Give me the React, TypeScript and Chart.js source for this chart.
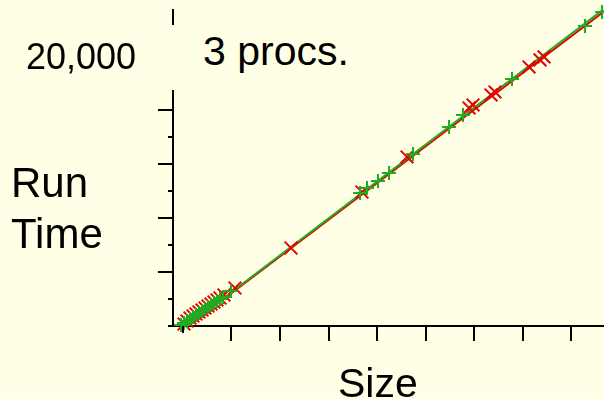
import React, { useEffect, useRef } from 'react';
import { Chart, registerables } from 'chart.js';

Chart.register(...registerables);

// ---- Data ----
const X_MIN = -206;
const X_MAX = 8680;
const Y_MIN = 0;
const Y_MAX = 23360;
const X_TICKS = [0, 1000, 2000, 3000, 4000, 5000, 6000, 7000, 8000];
const Y_TICKS = [0, 2000, 4000, 6000, 8000, 10000, 12000, 14000, 16000, 18000, 20000, 22000];
const Y_LABELED_TICK = 20000;
const Y_LABEL_TEXT = '20,000';

const TITLE = '3 procs.';
const Y_TITLE = ['Run', 'Time'];
const X_TITLE = 'Size';

// red series (x marks)
const RED_X = [21, 82, 144, 206, 268, 330, 392, 454, 516, 577, 639, 701, 763, 845, 1072, 2227, 3691, 4619, 5897, 5980, 6351, 6433, 7134, 7361, 7444];
const RED_Y = [148, 370, 592, 739, 887, 1035, 1183, 1331, 1479, 1627, 1775, 1922, 2070, 2292, 2810, 5767, 9908, 12496, 16119, 16341, 17080, 17302, 19150, 19668, 19890];
// green series (+ marks)
const GREEN_X = [-41, 21, 82, 144, 206, 268, 330, 392, 454, 516, 577, 639, 701, 763, 825, 990, 3650, 3794, 4021, 4248, 4743, 5485, 5774, 6784, 8289, 8640];
const GREEN_Y = [74, 222, 370, 518, 665, 813, 961, 1109, 1257, 1405, 1553, 1701, 1849, 1996, 2144, 2588, 9834, 10204, 10721, 11313, 12718, 14714, 15601, 18263, 22182, 23217];
// fitted lines
const RED_FIT_X = [103, 8680];
const RED_FIT_Y = [0, 23254];
const GREEN_FIT_X = [82, 8680];
const GREEN_FIT_Y = [0, 23438];

const BG = '#FFFFE5';
const RED = '#E60000';
const GREEN = '#22AA22';
const FONT = '"Liberation Sans", Arial, sans-serif';

const zip = (xs: number[], ys: number[]) => xs.map((x, i) => ({ x, y: ys[i] }));

const tickPlugin = {
  id: 'customTicks',
  afterDraw(chart: any) {
    const { ctx, chartArea } = chart;
    const xs = chart.scales.x;
    const ys = chart.scales.y;
    ctx.save();
    ctx.strokeStyle = '#000';
    ctx.lineWidth = 2;
    ctx.beginPath();
    X_TICKS.forEach((v) => {
      const px = Math.round(xs.getPixelForValue(v));
      const len = v === 0 ? 7 : 15;
      ctx.moveTo(px, chartArea.bottom);
      ctx.lineTo(px, chartArea.bottom + len);
    });
    Y_TICKS.forEach((v) => {
      const py = Math.round(ys.getPixelForValue(v));
      const len = v !== 0 && v % 4000 === 0 ? 15 : 5;
      ctx.moveTo(chartArea.left - len, py);
      ctx.lineTo(chartArea.left, py);
    });
    ctx.stroke();
    // tick label
    ctx.fillStyle = '#000';
    ctx.font = `36px ${FONT}`;
    ctx.textAlign = 'right';
    ctx.textBaseline = 'middle';
    ctx.fillText(Y_LABEL_TEXT, chartArea.left - 37, ys.getPixelForValue(Y_LABELED_TICK) + 4);
    ctx.restore();
  },
};

export default function App() {
  const ref = useRef<HTMLCanvasElement>(null);

  useEffect(() => {
    if (!ref.current) return;
    const chart = new Chart(ref.current, {
      type: 'scatter',
      data: {
        datasets: [
          {
            label: 'green',
            data: zip(GREEN_X, GREEN_Y),
            pointStyle: 'cross',
            pointRadius: 7,
            pointBorderWidth: 2,
            borderColor: GREEN,
            backgroundColor: GREEN,
            showLine: false,
            order: 1,
            clip: 8,
          },
          {
            label: 'red',
            data: zip(RED_X, RED_Y),
            pointStyle: 'crossRot',
            pointRadius: 9,
            pointBorderWidth: 2,
            borderColor: RED,
            backgroundColor: RED,
            showLine: false,
            order: 2,
            clip: 8,
          },
          {
            label: 'green fit',
            data: zip(GREEN_FIT_X, GREEN_FIT_Y),
            showLine: true,
            pointRadius: 0,
            borderWidth: 2,
            borderColor: GREEN,
            order: 3,
            clip: 0,
          },
          {
            label: 'red fit',
            data: zip(RED_FIT_X, RED_FIT_Y),
            showLine: true,
            pointRadius: 0,
            borderWidth: 2,
            borderColor: RED,
            order: 4,
            clip: 0,
          },
        ],
      },
      options: {
        animation: false,
        responsive: false,
        devicePixelRatio: 1,
        layout: { autoPadding: false, padding: { top: 10, left: 0, right: 0, bottom: 0 } },
        plugins: { legend: { display: false }, tooltip: { enabled: false } },
        scales: {
          x: {
            type: 'linear',
            min: X_MIN,
            max: X_MAX,
            grid: { display: false, drawTicks: false },
            border: { display: true, color: '#000', width: 2 },
            ticks: { display: false },
            afterFit: (s: any) => { s.height = 73; },
          },
          y: {
            type: 'linear',
            min: Y_MIN,
            max: Y_MAX,
            grid: { display: false, drawTicks: false },
            border: { display: true, color: '#000', width: 2 },
            ticks: { display: false },
            afterFit: (s: any) => { s.width = 173; },
          },
        },
      },
      plugins: [tickPlugin],
    });
    return () => chart.destroy();
  }, []);

  const text: React.CSSProperties = { position: 'absolute', fontFamily: FONT, color: '#000', whiteSpace: 'nowrap' };

  return (
    <div style={{ position: 'fixed', left: 0, top: 0, width: 604, height: 399, overflow: 'hidden', background: BG }}>
      <canvas ref={ref} width={604} height={399} style={{ position: 'absolute', left: 0, top: 0 }} />
      <div style={{ position: 'absolute', left: 155, top: 25, width: 205, height: 65, background: BG }}>
        <div style={{ ...text, left: 48, top: 6, fontSize: 41, lineHeight: '40px' }}>{TITLE}</div>
      </div>
      <div style={{ ...text, left: 11, top: 157, fontSize: 42, lineHeight: '51px' }}>
        {Y_TITLE.map((t) => (<div key={t}>{t}</div>))}
      </div>
      <div style={{ ...text, left: 338, top: 363, fontSize: 41, lineHeight: '41px' }}>{X_TITLE}</div>
    </div>
  );
}
